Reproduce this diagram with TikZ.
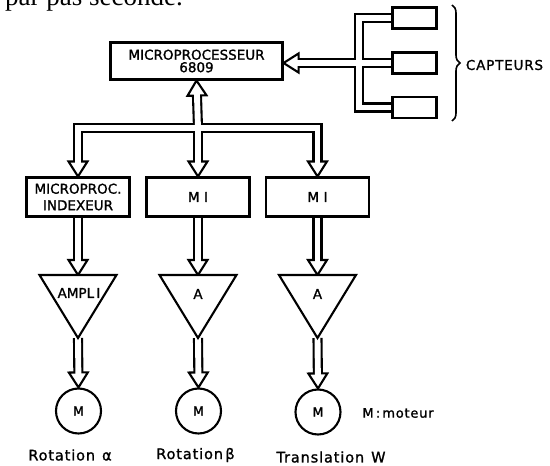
\documentclass[tikz,border=0pt]{standalone}
\usepackage{fontspec}
\setmainfont{DejaVu Sans}[FakeBold=1.3]
\newfontfamily\pagefont{Liberation Serif}
\newfontfamily\labfont{DejaVu Sans}[LetterSpace=6,FakeBold=1.3]
\usetikzlibrary{calc,backgrounds,decorations.pathreplacing}
\tikzset{
  block/.style={draw, line width=2.1pt, fill=white, inner sep=0pt, align=center},
  sensor/.style={draw, line width=2.1pt, fill=white, minimum width=44pt, minimum height=21pt, inner sep=0pt},
  amp/.style={draw, line width=2.1pt, fill=white, line join=miter},
  motor/.style={draw, circle, line width=2.1pt, fill=white, minimum size=45pt, inner sep=0pt, font=\fontsize{12.5}{14}\selectfont},
  busblack/.style={line width=10.1pt, line join=miter, line cap=butt, draw=black},
  buswhite/.style={line width=5.9pt, line join=miter, line cap=butt, draw=white},
  headst/.style={draw=black, fill=white, line width=2.1pt, line join=miter},
  lab/.style={inner sep=0pt, font=\labfont\fontsize{14.5}{16}\selectfont},
  inlab/.style={inner sep=0pt, font=\fontsize{13.5}{15}\selectfont},
}
\newcommand\setarrow[3]{%
  \coordinate (#3) at ($(#2)!15pt!(#1)$);
  \coordinate (#3w) at ($(#3)!-2.2pt!(#1)$);}
\newcommand\mkhead[2]{%
  \filldraw[headst] ($(#1)!9.5pt!90:(#2)$) -- (#2) -- ($(#1)!9.5pt!-90:(#2)$) -- cycle;}
\begin{document}
\begin{tikzpicture}[x=1pt,y=-1pt]
\useasboundingbox (0,0) rectangle (550,466);
\begin{scope}
  \clip (0,0) rectangle (550,466);
  \node[anchor=base west, inner sep=0pt, font=\pagefont\fontsize{27}{30}\selectfont] (pagetext) at (5,5) {par pas seconde.};
\end{scope}

% main blocks
\node[block, minimum width=172pt, minimum height=37pt, font=\fontsize{13.5}{12.5}\selectfont] (micro) at (196.5,61) {MICROPROCESSEUR\\6809};
\node[sensor] (s1) at (414.5,18) {};
\node[sensor] (s2) at (414.5,63) {};
\node[sensor] (s3) at (414.5,107.5) {};
\draw[line width=1.6pt, decorate, decoration={brace, amplitude=8pt}] (452,5) -- (452,121);
\node[lab, font=\labfont\fontsize{13.5}{15}\selectfont] (capteurs) at (504.5,65) {CAPTEURS};

\node[block, minimum width=103pt, minimum height=39pt, font=\fontsize{13.5}{16.5}\selectfont] (b1) at (78,197) {MICROPROC.\\INDEXEUR};
\node[block, minimum width=103pt, minimum height=39pt, font=\fontsize{13.5}{15}\selectfont] (b2) at (198,197) {M\,\,I};
\node[block, minimum width=103pt, minimum height=39pt, font=\fontsize{13.5}{15}\selectfont] (b3) at (317.5,197) {M\,\,I};

% amplifiers
\foreach \n/\x in {1/78,2/198,3/317.5}{
  \coordinate (t\n top) at (\x,275);
  \coordinate (t\n l) at (\x-38.5,275);
  \coordinate (t\n r) at (\x+38.5,275);
  \coordinate (t\n apex) at (\x,338);
}
\draw[amp] (t1l) -- (t1r) -- (t1apex) -- cycle;
\draw[amp] (t2l) -- (t2r) -- (t2apex) -- cycle;
\draw[amp] (t3l) -- (t3r) -- (t3apex) -- cycle;
\node[inlab] (a1) at (79,293) {AMPL\,I};
\node[inlab] (a2) at (198,294) {A};
\node[inlab] (a3) at (317.5,294) {A};

% motors
\node[motor] (m1) at (78.5,411) {M};
\node[motor] (m2) at (198.5,411) {M};
\node[motor] (m3) at (318,412) {M};
\node[lab, font=\labfont\fontsize{13}{15}\selectfont] (legend) at (398,413) {M\,:\,moteur};

\node[lab] (r1) at (70,455) {Rotation\hspace{7pt}α};
\node[lab] (r2) at (195.5,455) {Rotation\,β};
\node[lab] (r3) at (331,457) {Translation\hspace{7pt}W};

% bus coordinates
\coordinate (busL) at (78,128);
\coordinate (busM) at (198,128);
\coordinate (busR) at (317.5,128);
\coordinate (sbT) at (359,18);
\coordinate (sbB) at (359,107.5);
\coordinate (mtip) at (micro.east |- s2.west);

\setarrow{busL}{b1.north}{hL}
\setarrow{busM}{b2.north}{hM}
\setarrow{busR}{b3.north}{hR}
\setarrow{busM}{micro.south}{hU}
\setarrow{s2.west}{mtip}{hS}
\setarrow{b1.south}{t1top}{hA1}
\setarrow{b2.south}{t2top}{hA2}
\setarrow{b3.south}{t3top}{hA3}
\setarrow{t1apex}{m1.north}{hC1}
\setarrow{t2apex}{m2.north}{hC2}
\setarrow{t3apex}{m3.north}{hC3}

\begin{pgfonlayer}{background}
  % outer lines
  \draw[busblack] (hL) -- (busL) -- (busR) -- (hR);
  \draw[busblack] (busM) -- (hM);
  \draw[busblack] (busM) -- (hU);
  \draw[busblack] (s2.west) -- (hS);
  \draw[busblack] (s1.west) -- (sbT) -- (sbB) -- (s3.west);
  \draw[busblack] (b1.south) -- (hA1);
  \draw[busblack] (b2.south) -- (hA2);
  \draw[busblack] (b3.south) -- (hA3);
  \draw[busblack] (t1apex) -- (hC1);
  \draw[busblack] (t2apex) -- (hC2);
  \draw[busblack] (t3apex) -- (hC3);
  % heads
  \mkhead{hL}{b1.north}
  \mkhead{hM}{b2.north}
  \mkhead{hR}{b3.north}
  \mkhead{hU}{micro.south}
  \mkhead{hS}{mtip}
  \mkhead{hA1}{t1top}
  \mkhead{hA2}{t2top}
  \mkhead{hA3}{t3top}
  \mkhead{hC1}{m1.north}
  \mkhead{hC2}{m2.north}
  \mkhead{hC3}{m3.north}
  % inner white
  \draw[buswhite] (hLw) -- (busL) -- (busR) -- (hRw);
  \draw[buswhite] (busM) -- (hMw);
  \draw[buswhite] (busM) -- (hUw);
  \draw[buswhite] (s2.west) -- (hSw);
  \draw[buswhite] (s1.west) -- (sbT) -- (sbB) -- (s3.west);
  \draw[buswhite] (b1.south) -- (hA1w);
  \draw[buswhite] (b2.south) -- (hA2w);
  \draw[buswhite] (b3.south) -- (hA3w);
  \draw[buswhite] (t1apex) -- (hC1w);
  \draw[buswhite] (t2apex) -- (hC2w);
  \draw[buswhite] (t3apex) -- (hC3w);
\end{pgfonlayer}
\end{tikzpicture}
\end{document}
